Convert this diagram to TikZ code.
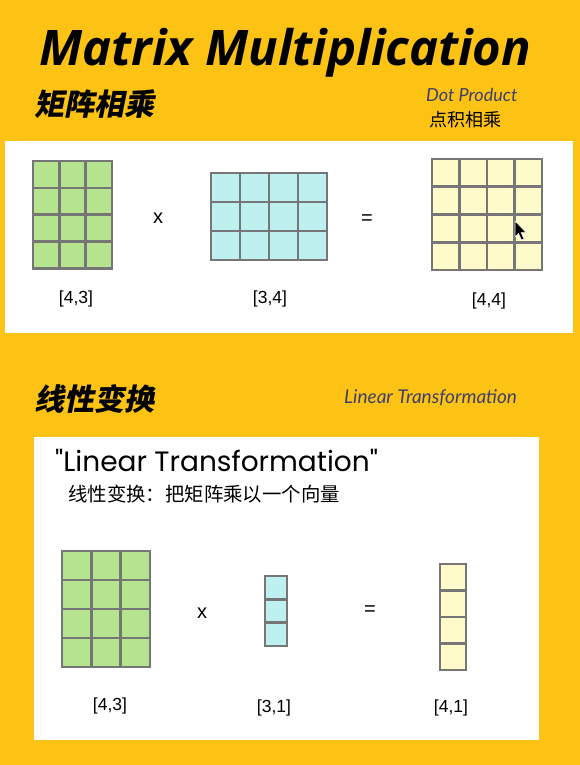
\documentclass[tikz,border=0pt]{standalone}
\usepackage{fontspec}
\setmainfont{Liberation Sans}
\newfontfamily\titlefont{Open Sans}
\newfontfamily\cjk{Noto Sans CJK SC}
\newfontfamily\cjkhead[FakeSlant=0.2]{Noto Sans CJK SC}
\newfontfamily\handfont{Lato}
\newfontfamily\quotefont{Poppins}

\definecolor{bgyellow}{RGB}{252,194,20}
\definecolor{cellgreen}{RGB}{182,228,142}
\definecolor{cellblue}{RGB}{190,240,240}
\definecolor{cellyellow}{RGB}{255,250,202}
\definecolor{gridgray}{RGB}{118,118,118}
\definecolor{inkblue}{RGB}{62,64,108}

% x, y (top left), columns, rows, cell width, cell height, fill
\newcommand{\cellgrid}[7]{%
  \fill[#7] (#1,#2) rectangle ++({#3*#5},{#4*#6});
  \foreach \i in {0,...,#3} {
    \draw[gridline] ({#1+\i*#5},#2) -- ++(0,{#4*#6});
  }
  \foreach \j in {0,...,#4} {
    \draw[gridline] (#1,{#2+\j*#6}) -- ++({#3*#5},0);
  }
}

\begin{document}
\begin{tikzpicture}[x=1pt, y=-1pt,
    gridline/.style={draw=gridgray, line width=2.6pt, line cap=rect},
    dimlabel/.style={font=\fontsize{17.5}{20}\selectfont, inner sep=0pt},
    opsign/.style={font=\fontsize{20}{22}\selectfont, inner sep=0pt},
    heading/.style={font=\cjkhead\bfseries\fontsize{30}{32}\selectfont, inner sep=0pt, anchor=west}]

    % ====== BACKGROUND ======
    \fill[bgyellow] (0,0) rectangle (580,765);
    \useasboundingbox (0,0) rectangle (580,765);

    % ====== HEADER ======
    \node[anchor=base west, inner sep=0pt,
      font=\titlefont\bfseries\itshape\fontsize{49}{54}\selectfont] (title) at (39,66) {Matrix Multiplication};
    \node[heading] (headA) at (34,104) {矩阵相乘};
    \node[anchor=west, inner sep=0pt, text=inkblue,
      font=\handfont\itshape\fontsize{18}{20}\selectfont] (dotprod) at (426,95) {Dot Product};
    \node[inner sep=0pt, font=\cjk\fontsize{18}{20}\selectfont] (dotcn) at (465,120) {点积相乘};

    % ====== PANEL 1: MATRIX x MATRIX ======
    \begin{scope}
      \fill[white] (5,141) rectangle (573,333);

      % Matrices
      \cellgrid{33}{161}{3}{4}{26.3}{26.8}{cellgreen}
      \cellgrid{211}{173}{4}{3}{29}{29}{cellblue}
      \cellgrid{432}{159}{4}{4}{27.5}{27.75}{cellyellow}

      % Operators
      \node[opsign] (timesA) at (158,218) {x};
      \node[opsign] (equalA) at (367,220) {=};

      % Shapes
      \node[dimlabel] (lblAa) at (76,299) {[4,3]};
      \node[dimlabel] (lblAb) at (270,299) {[3,4]};
      \node[dimlabel] (lblAc) at (489,301) {[4,4]};

      % Mouse cursor
      \fill[black, draw=white, line width=0.5pt]
        (515,221) -- (515,237) -- (518.5,233.5) -- (521.5,240) -- (524,239)
        -- (521,232.5) -- (526,232.5) -- cycle;
    \end{scope}

    % ====== PANEL 2: MATRIX x VECTOR ======
    \node[heading] (headB) at (34,399) {线性变换};
    \node[anchor=west, inner sep=0pt, text=inkblue,
      font=\handfont\itshape\fontsize{19}{22}\selectfont] (lintrans) at (344,398) {Linear Transformation};

    \begin{scope}
      \fill[white] (34,437) rectangle (539,740);

      \node[anchor=west, inner sep=0pt,
        font=\quotefont\fontsize{28}{31}\selectfont] (quote) at (55,460) {"Linear Transformation"};
      \node[anchor=west, inner sep=0pt,
        font=\cjk\fontsize{19.4}{22}\selectfont] (quotecn) at (68,494) {线性变换：把矩阵乘以一个向量};

      % Matrix and vectors
      \cellgrid{62}{551}{3}{4}{29.3}{29}{cellgreen}
      \cellgrid{265}{576}{1}{3}{22}{23.3}{cellblue}
      \cellgrid{440}{564}{1}{4}{26}{26.5}{cellyellow}

      % Operators
      \node[opsign] (timesB) at (202,613) {x};
      \node[opsign] (equalB) at (370,611) {=};

      % Shapes
      \node[dimlabel] (lblBa) at (110,706) {[4,3]};
      \node[dimlabel] (lblBb) at (274,708) {[3,1]};
      \node[dimlabel] (lblBc) at (451,708) {[4,1]};
    \end{scope}

  \end{tikzpicture}
\end{document}
